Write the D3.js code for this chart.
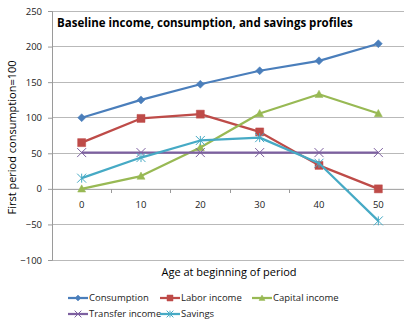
<!DOCTYPE html>
<html>
<head>
<meta charset="utf-8">
<script src="https://cdn.jsdelivr.net/npm/d3@7"></script>
<style>
  html, body { margin: 0; padding: 0; background: #fff; }
  svg { display: block; font-family: "Open Sans", sans-serif; }
</style>
</head>
<body>
<svg id="chart" width="404" height="320"></svg>
<script>
// Age categories (start of each period)
const ages = ["0", "10", "20", "30", "40", "50"];

// Profiles, normalised so that first-period consumption = 100
const consumption = [100, 125, 147, 166, 180, 204];
const laborIncome = [65, 99, 105, 80, 33, 0];
const capitalIncome = [0, 18, 58, 106, 133, 106];
const transferIncome = [51, 51, 51, 51, 51, 51];
const savings = [15, 44, 68, 72, 36, -45];

const yTicks = [-100, -50, 0, 50, 100, 150, 200, 250];

const seriesNames = ["Consumption", "Labor income", "Capital income", "Transfer income", "Savings"];
const seriesValues = [consumption, laborIncome, capitalIncome, transferIncome, savings];
const seriesColors = ["#4a7ebb", "#be4b48", "#98b954", "#7d60a0", "#46aac5"];
const seriesMarkers = ["diamond", "square", "triangle", "cross", "star"];

const FONT = "'Open Sans', sans-serif";
const svg = d3.select("#chart");
const plot = { left: 52, right: 408, top: 11, bottom: 260 };

const x = d3.scaleBand().domain(ages).range([plot.left, plot.right]);
const y = d3.scaleLinear().domain([-100, 250]).range([plot.bottom, plot.top]);

// Horizontal gridlines
svg.append("g")
  .selectAll("line")
  .data(yTicks.filter(t => t !== 0))
  .join("line")
  .attr("x1", plot.left).attr("x2", plot.right)
  .attr("y1", d => y(d)).attr("y2", d => y(d))
  .attr("stroke", "#b9b9b9").attr("stroke-width", 1)
  .attr("shape-rendering", "crispEdges");

// Value axis
const yAxis = svg.append("g")
  .attr("transform", `translate(${plot.left},0)`)
  .call(d3.axisLeft(y).tickValues(yTicks).tickSize(4).tickPadding(6));
yAxis.select(".domain").attr("stroke", "#9a9a9a");
yAxis.selectAll(".tick line").attr("stroke", "#9a9a9a");
yAxis.selectAll("text").attr("fill", "#222").style("font-size", "9.5px")
  .style("font-family", FONT);

// Category axis crosses at zero, ticks between categories
const xAxis = svg.append("g")
  .attr("transform", `translate(0,${y(0)})`)
  .call(d3.axisBottom(x).tickSize(0).tickPadding(12));
xAxis.select(".domain").attr("stroke", "#9a9a9a");
xAxis.selectAll("text").attr("fill", "#222").style("font-size", "9.5px")
  .style("font-family", FONT);
xAxis.selectAll(".sep")
  .data(ages.slice(1))
  .join("line")
  .attr("class", "sep")
  .attr("x1", d => x(d)).attr("x2", d => x(d))
  .attr("y1", 0).attr("y2", 4)
  .attr("stroke", "#9a9a9a")
  .attr("shape-rendering", "crispEdges");

// Marker shapes
function markerPath(kind, s) {
  const h = s / 2;
  switch (kind) {
    case "diamond": return `M0,${-h}L${h},0L0,${h}L${-h},0Z`;
    case "square": return `M${-h},${-h}H${h}V${h}H${-h}Z`;
    case "triangle": return `M0,${-h}L${h},${h * 0.8}L${-h},${h * 0.8}Z`;
    case "cross": return `M${-h},${-h}L${h},${h}M${h},${-h}L${-h},${h}`;
    case "star": return `M${-h},${-h}L${h},${h}M${h},${-h}L${-h},${h}M0,${-h}V${h}`;
  }
}
const markerSize = { diamond: 8, square: 8, triangle: 8, cross: 9, star: 9 };

function drawMarker(g, kind, color, scale) {
  const open = kind === "cross" || kind === "star";
  g.append("path")
    .attr("d", markerPath(kind, markerSize[kind] * scale))
    .attr("fill", open ? "none" : color)
    .attr("stroke", color)
    .attr("stroke-width", open ? 1 : 0.5);
}

const line = d3.line()
  .x((d, i) => x(ages[i]) + x.bandwidth() / 2)
  .y(d => y(d));

seriesValues.forEach((vals, si) => {
  const g = svg.append("g");
  g.append("path")
    .datum(vals)
    .attr("d", line)
    .attr("fill", "none")
    .attr("stroke", seriesColors[si])
    .attr("stroke-width", 2.25)
    .attr("stroke-linejoin", "round");
  vals.forEach((v, i) => {
    const m = g.append("g")
      .attr("transform", `translate(${x(ages[i]) + x.bandwidth() / 2},${y(v)})`);
    drawMarker(m, seriesMarkers[si], seriesColors[si], 1);
  });
});

// Title
svg.append("text")
  .attr("x", 57).attr("y", 27)
  .attr("fill", "#000")
  .style("font-size", "11.5px").style("font-weight", "bold")
  .text("Baseline income, consumption, and savings profiles");

// Axis titles
svg.append("text")
  .attr("transform", `translate(16,${(plot.top + plot.bottom) / 2 + 2}) rotate(-90)`)
  .attr("text-anchor", "middle")
  .attr("fill", "#000")
  .style("font-size", "11px")
  .text("First period consumption=100");

svg.append("text")
  .attr("x", 229).attr("y", 276)
  .attr("text-anchor", "middle")
  .attr("fill", "#000")
  .style("font-size", "11px")
  .text("Age at beginning of period");

// Legend
const legendPos = [[68, 298], [160, 298], [252, 298], [68, 314], [160, 314]];
seriesNames.forEach((name, si) => {
  const [lx, ly] = legendPos[si];
  const g = svg.append("g").attr("transform", `translate(${lx},${ly})`);
  g.append("line").attr("x1", 0).attr("x2", 20).attr("y1", 0).attr("y2", 0)
    .attr("stroke", seriesColors[si]).attr("stroke-width", 2.25);
  const m = g.append("g").attr("transform", "translate(10,0)");
  drawMarker(m, seriesMarkers[si], seriesColors[si], 0.75);
  g.append("text").attr("x", 21).attr("y", 3.3)
    .attr("fill", "#222").style("font-size", "9.5px")
    .text(name);
});
</script>
</body>
</html>
